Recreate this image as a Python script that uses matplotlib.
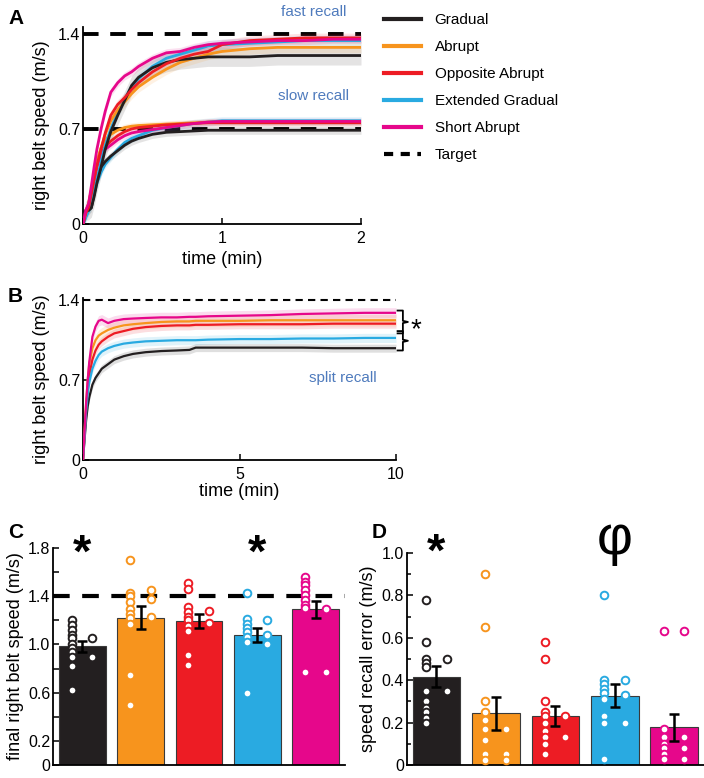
import numpy as np
import matplotlib
matplotlib.use("Agg")
import matplotlib.pyplot as plt
from matplotlib.lines import Line2D

plt.rcParams['font.family'] = ['Liberation Sans', 'DejaVu Sans']

# groups and colours
groups = ["Gradual", "Abrupt", "Opposite Abrupt", "Extended Gradual", "Short Abrupt"]
colors = ["#231f20", "#f7941d", "#ed1c24", "#29aae1", "#e6078b"]
recall_blue = "#4f7bbd"

# panel A: recall of fast (1.4) and slow (0.7) targets, first 2 min
t_a = [0, 0.02, 0.04, 0.06, 0.08, 0.1, 0.13, 0.16, 0.2, 0.25, 0.3, 0.35, 0.4,
       0.5, 0.6, 0.7, 0.8, 0.9, 1.0, 1.2, 1.4, 1.6, 1.8, 2.0]
fast_gradual = [0, 0.1, 0.1, 0.12, 0.2, 0.3, 0.42, 0.55, 0.68, 0.8, 0.91, 1.02, 1.08,
                1.15, 1.19, 1.21, 1.22, 1.23, 1.23, 1.23, 1.24, 1.24, 1.24, 1.24]
fast_abrupt = [0, 0.08, 0.15, 0.25, 0.35, 0.45, 0.56, 0.66, 0.76, 0.84, 0.9, 0.96, 1.01,
               1.08, 1.14, 1.19, 1.22, 1.25, 1.27, 1.29, 1.3, 1.3, 1.3, 1.3]
fast_opposite = [0, 0.08, 0.12, 0.22, 0.33, 0.43, 0.55, 0.67, 0.8, 0.88, 0.93, 0.99, 1.04,
                 1.12, 1.18, 1.22, 1.25, 1.27, 1.32, 1.35, 1.36, 1.37, 1.37, 1.37]
fast_extended = [0, 0.05, 0.1, 0.15, 0.24, 0.33, 0.46, 0.58, 0.7, 0.82, 0.92, 1.01, 1.07,
                 1.16, 1.22, 1.25, 1.28, 1.31, 1.32, 1.33, 1.34, 1.35, 1.35, 1.35]
fast_short = [0, 0.1, 0.15, 0.28, 0.42, 0.55, 0.7, 0.83, 0.97, 1.04, 1.09, 1.12, 1.16,
              1.22, 1.26, 1.27, 1.3, 1.32, 1.33, 1.34, 1.35, 1.35, 1.36, 1.36]
slow_gradual = [0, 0.08, 0.1, 0.12, 0.22, 0.33, 0.42, 0.46, 0.5, 0.54, 0.58, 0.61, 0.63,
                0.66, 0.675, 0.68, 0.685, 0.69, 0.69, 0.69, 0.69, 0.69, 0.69, 0.69]
slow_abrupt = [0, 0.08, 0.15, 0.25, 0.36, 0.46, 0.56, 0.62, 0.66, 0.69, 0.71, 0.72, 0.725,
               0.73, 0.735, 0.74, 0.745, 0.75, 0.75, 0.75, 0.75, 0.75, 0.75, 0.75]
slow_opposite = [0, 0.08, 0.13, 0.22, 0.33, 0.43, 0.52, 0.57, 0.61, 0.65, 0.68, 0.7, 0.71,
                 0.72, 0.73, 0.735, 0.74, 0.745, 0.745, 0.745, 0.745, 0.745, 0.745, 0.745]
slow_extended = [0, 0.05, 0.1, 0.14, 0.22, 0.3, 0.38, 0.44, 0.49, 0.55, 0.6, 0.63, 0.65,
                 0.69, 0.71, 0.725, 0.74, 0.75, 0.76, 0.76, 0.76, 0.76, 0.76, 0.76]
slow_short = [0, 0.1, 0.14, 0.22, 0.32, 0.42, 0.52, 0.55, 0.58, 0.62, 0.65, 0.67, 0.68,
              0.695, 0.71, 0.725, 0.74, 0.75, 0.755, 0.755, 0.755, 0.755, 0.755, 0.755]
fast_se = [0.07, 0.04, 0.035, 0.04, 0.03]
slow_se = [0.03, 0.025, 0.025, 0.03, 0.025]

# panel B: split recall, 10 min
t_b = [0, 0.05, 0.1, 0.15, 0.2, 0.3, 0.4, 0.5, 0.6, 0.8, 1.0, 1.3, 1.6, 2.0, 2.5,
       3.0, 3.4, 3.6, 4, 5, 6, 7, 8, 9, 10]
split_gradual = [0, 0.18, 0.35, 0.47, 0.55, 0.66, 0.72, 0.76, 0.8, 0.84, 0.88, 0.91, 0.93,
                 0.945, 0.955, 0.96, 0.965, 0.985, 0.985, 0.985, 0.985, 0.985, 0.98, 0.98, 0.98]
split_abrupt = [0, 0.25, 0.5, 0.7, 0.84, 0.98, 1.05, 1.09, 1.11, 1.14, 1.16, 1.18, 1.19,
                1.2, 1.21, 1.215, 1.215, 1.22, 1.22, 1.22, 1.225, 1.225, 1.225, 1.225, 1.225]
split_opposite = [0, 0.22, 0.45, 0.62, 0.74, 0.88, 0.96, 1.01, 1.04, 1.08, 1.11, 1.13, 1.15,
                  1.165, 1.175, 1.18, 1.18, 1.185, 1.185, 1.19, 1.19, 1.19, 1.195, 1.195, 1.195]
split_extended = [0, 0.2, 0.42, 0.58, 0.68, 0.8, 0.87, 0.92, 0.95, 0.98, 1.0, 1.02, 1.03,
                  1.04, 1.045, 1.05, 1.05, 1.05, 1.055, 1.06, 1.06, 1.065, 1.065, 1.07, 1.07]
split_short = [0, 0.25, 0.5, 0.7, 0.86, 1.08, 1.17, 1.22, 1.23, 1.2, 1.22, 1.235, 1.24,
               1.245, 1.25, 1.25, 1.255, 1.255, 1.26, 1.265, 1.27, 1.28, 1.285, 1.29, 1.29]
split_se = [0.035, 0.05, 0.04, 0.04, 0.045]

# panel C: final right belt speed (mean, SE, subjects in two columns)
final_mean = [0.985, 1.22, 1.195, 1.075, 1.29]
final_se = [0.045, 0.095, 0.06, 0.058, 0.073]
final_left = [[1.20, 1.16, 1.12, 1.08, 1.05, 1.00, 0.97, 0.94, 0.90, 0.82, 0.62],
              [1.70, 1.43, 1.40, 1.35, 1.29, 1.25, 1.22, 1.17, 0.75, 0.50],
              [1.51, 1.46, 1.31, 1.27, 1.23, 1.20, 1.15, 1.11, 0.91, 0.83],
              [1.43, 1.21, 1.17, 1.14, 1.10, 1.06, 1.02, 0.60],
              [1.56, 1.52, 1.49, 1.45, 1.41, 1.37, 1.33, 1.30, 0.77]]
final_right = [[1.05, 0.90], [1.45, 1.38, 1.23], [1.28, 1.18], [1.20, 1.08, 1.00], [1.29, 0.77]]
c_ticks = [0, 0.2, 0.4, 0.6, 0.8, 1.0, 1.2, 1.4, 1.6, 1.8]
c_ticklabels = ["0", "0.2", "", "0.6", "", "1.0", "", "1.4", "", "1.8"]

# panel D: speed recall error
err_mean = [0.417, 0.244, 0.231, 0.327, 0.178]
err_se = [0.048, 0.077, 0.047, 0.054, 0.063]
err_left = [[0.78, 0.58, 0.50, 0.48, 0.46, 0.35, 0.30, 0.27, 0.25, 0.22, 0.20],
            [0.90, 0.65, 0.30, 0.25, 0.21, 0.17, 0.12, 0.05, 0.025],
            [0.58, 0.50, 0.30, 0.25, 0.23, 0.20, 0.16, 0.13, 0.10, 0.05],
            [0.80, 0.40, 0.38, 0.36, 0.34, 0.31, 0.23, 0.20, 0.03],
            [0.63, 0.17, 0.13, 0.10, 0.08, 0.05, 0.03]]
err_right = [[0.50, 0.35], [0.17, 0.05, 0.025], [0.23, 0.13], [0.40, 0.33, 0.20],
             [0.63, 0.13, 0.08, 0.03]]

W, H = 704, 778
fig = plt.figure(figsize=(W / 100, H / 100), dpi=100)


def px_axes(l, r, b, t):
    return fig.add_axes([l / W, (H - b) / H, (r - l) / W, (b - t) / H])


def style(ax):
    for s in ("top", "right"):
        ax.spines[s].set_visible(False)
    ax.spines["left"].set_linewidth(1.3)
    ax.spines["bottom"].set_linewidth(1.3)
    ax.tick_params(direction="in", length=4, width=1.1, labelsize=11.5, pad=2)
    ax.tick_params(axis="x", pad=5)


# ---- A
ax_a = px_axes(83, 361, 224, 27)
fast = [fast_gradual, fast_abrupt, fast_opposite, fast_extended, fast_short]
slow = [slow_gradual, slow_abrupt, slow_opposite, slow_extended, slow_short]
ax_a.plot([0, 2], [1.4, 1.4], color="black", lw=2.8, dashes=(4, 3), zorder=1)
ax_a.plot([0, 2], [0.7, 0.7], color="black", lw=2.8, dashes=(4, 3), zorder=1)
for curves, ses in ((slow, slow_se), (fast, fast_se)):
    for y, se, c in zip(curves, ses, colors):
        y = np.array(y)
        ax_a.fill_between(t_a, y - se, y + se, color=c, alpha=0.12, lw=0, zorder=2)
order = [3, 1, 0, 2, 4]
for curves in (slow, fast):
    for i in order:
        ax_a.plot(t_a, curves[i], color=colors[i], lw=2.0, zorder=3)
ax_a.set_xlim(0, 2)
ax_a.set_ylim(0, 1.45)
ax_a.set_xticks([0, 1, 2])
ax_a.set_yticks([0, 0.7, 1.4])
ax_a.set_yticklabels(["0", "0.7", "1.4"])
ax_a.set_xlabel("time (min)", fontsize=13, labelpad=4)
ax_a.set_ylabel("right belt speed (m/s)", fontsize=13, labelpad=6)
style(ax_a)
ax_a.text(1.66, 1.56, "fast recall", color=recall_blue, fontsize=11, ha="center", va="center")
ax_a.text(1.66, 0.94, "slow recall", color=recall_blue, fontsize=11, ha="center", va="center")

# ---- B
ax_b = px_axes(83, 396, 460, 298)
split = [split_gradual, split_abrupt, split_opposite, split_extended, split_short]
ax_b.plot([0, 10], [1.4, 1.4], color="black", lw=1.5, dashes=(3.5, 2.5), zorder=1)
for y, se, c in zip(split, split_se, colors):
    y = np.array(y)
    ax_b.fill_between(t_b, y - se, y + se, color=c, alpha=0.14, lw=0, zorder=2)
for y, c in zip(split, colors):
    ax_b.plot(t_b, y, color=c, lw=1.6, zorder=3)
ax_b.set_xlim(0, 10)
ax_b.set_ylim(0, 1.42)
ax_b.set_xticks([0, 5, 10])
ax_b.set_yticks([0, 0.7, 1.4])
ax_b.set_yticklabels(["0", "0.7", "1.4"])
ax_b.set_xlabel("time (min)", fontsize=13, labelpad=1)
ax_b.set_ylabel("right belt speed (m/s)", fontsize=13, labelpad=6)
style(ax_b)
ax_b.text(8.3, 0.72, "split recall", color=recall_blue, fontsize=11, ha="center", va="center")
# significance braces
for top, bot in ((1.31, 1.11), (1.13, 0.96)):
    mid = (top + bot) / 2
    ax_b.plot([10.05, 10.22, 10.22, 10.38, 10.22, 10.22, 10.05],
              [top, top, mid + 0.01, mid, mid - 0.01, bot, bot],
              color="black", lw=1.3, clip_on=False)
ax_b.text(10.62, 1.14, "*", fontsize=20, ha="center", va="center")

# ---- legend
handles = [Line2D([], [], color=c, lw=3) for c in colors]
handles.append(Line2D([], [], color="black", lw=3, dashes=(2.2, 1.8)))
fig.legend(handles, groups + ["Target"], loc="upper left",
           bbox_to_anchor=(378 / W, 1 - 7 / H), frameon=False, fontsize=11,
           handlelength=2.4, handletextpad=0.9, labelspacing=0.85, borderaxespad=0)


def bar_panel(ax, means, ses, left, right):
    xs = np.arange(1, len(means) + 1)
    ax.bar(xs, means, width=0.8, color=colors, edgecolor="#3a3a3a", lw=0.8, zorder=2)
    ax.errorbar(xs, means, yerr=ses, fmt="none", ecolor="black", elinewidth=1.8,
                capsize=3.5, capthick=1.8, zorder=4)
    for x, c, lv, rv in zip(xs, colors, left, right):
        ax.plot([x - 0.18] * len(lv), lv, "o", ms=5.5, mfc="white", mec=c, mew=1.4,
                zorder=5, clip_on=False)
        ax.plot([x + 0.17] * len(rv), rv, "o", ms=5.5, mfc="white", mec=c, mew=1.4,
                zorder=5, clip_on=False)
    ax.set_xlim(0.5, 5.5)
    ax.set_xticks([])
    style(ax)
    return xs


# ---- C
ax_c = px_axes(53, 345, 765, 548)
ax_c.plot([0.5, 5.5], [1.4, 1.4], color="black", lw=3, dashes=(4, 3), zorder=3)
bar_panel(ax_c, final_mean, final_se, final_left, final_right)
ax_c.set_ylim(0, 1.8)
ax_c.set_yticks(c_ticks)
ax_c.set_yticklabels(c_ticklabels)
ax_c.set_ylabel("final right belt speed (m/s)", fontsize=13, labelpad=3)
ax_c.text(1, 1.56, "*", fontsize=34, ha="center", va="bottom", fontweight="bold")
ax_c.text(4, 1.56, "*", fontsize=34, ha="center", va="bottom", fontweight="bold")

# ---- D
ax_d = px_axes(406.7, 704, 765, 553)
bar_panel(ax_d, err_mean, err_se, err_left, err_right)
ax_d.set_ylim(0, 1.0)
ax_d.set_yticks([0, 0.2, 0.4, 0.6, 0.8, 1.0])
ax_d.set_yticklabels(["0", "0.2", "0.4", "0.6", "0.8", "1.0"])
ax_d.set_yticks([0.1, 0.3, 0.5, 0.7, 0.9], minor=True)
ax_d.tick_params(which="minor", direction="in", length=3, width=1.1)
ax_d.set_ylabel("speed recall error (m/s)", fontsize=13, labelpad=3)
ax_d.text(1, 0.895, "*", fontsize=34, ha="center", va="bottom", fontweight="bold")
ax_d.text(4, 1.06, "φ", fontsize=40, ha="center", va="center")

# panel letters
for lab, x, y in (("A", 8, 18), ("B", 8, 296), ("C", 8, 532), ("D", 372, 532)):
    fig.text(x / W, 1 - y / H, lab, fontsize=15, fontweight="bold", va="center")

fig.savefig("out.png", dpi=100)
